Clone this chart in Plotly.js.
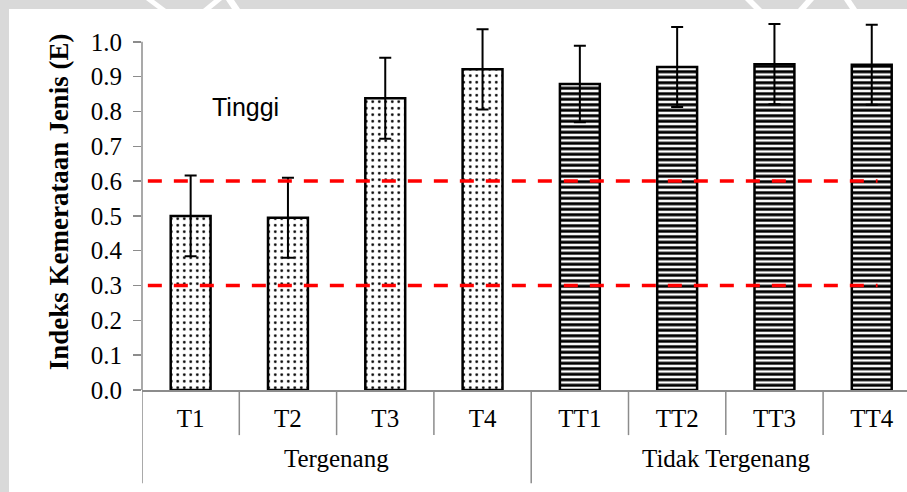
<!DOCTYPE html>
<html>
<head>
<meta charset="utf-8">
<script src="https://cdn.plot.ly/plotly-3.0.1.min.js"></script>
<style>
  html, body { margin: 0; padding: 0; background: #d9d9d9; width: 907px; height: 492px; overflow: hidden; }
  #bg { position: absolute; left: 0; top: 0; }
  #chart { position: absolute; left: 9px; top: 9px; width: 898px; height: 483px; background: #fff; }
</style>
</head>
<body>
<svg id="bg" width="907" height="20">
  <polygon points="146,0 154,0 166,9 158,9" fill="#ffffff"/>
  <polygon points="203,9 211,9 222,0 214,0" fill="#ffffff"/>
  <polygon points="226,0 234,0 240,9 232,9" fill="#ffffff"/>
  <polygon points="745,0 753,0 762,9 754,9" fill="#ffffff"/>
  <polygon points="798,9 806,9 814,0 806,0" fill="#ffffff"/>
  <polygon points="844,0 851,0 857,9 850,9" fill="#ffffff"/>
</svg>
<div id="chart"></div>
<script>
// ---- data ----
const groups = ['Tergenang', 'Tidak Tergenang'];
const categories = ['T1', 'T2', 'T3', 'T4', 'TT1', 'TT2', 'TT3', 'TT4'];
const groupIndex = [0, 0, 0, 0, 1, 1, 1, 1];
const values = [0.500, 0.495, 0.838, 0.921, 0.879, 0.928, 0.936, 0.934];
const errors = [0.116, 0.115, 0.116, 0.115, 0.110, 0.115, 0.115, 0.115];
const thresholds = [0.3, 0.6];
const yTicks = [0, 0.1, 0.2, 0.3, 0.4, 0.5, 0.6, 0.7, 0.8, 0.9, 1.0];
const yTitle = 'Indeks Kemerataan Jenis (E)';
const noteText = 'Tinggi';

// ---- styles ----
const serif = 'Liberation Serif, Times New Roman, serif';
const groupPattern = ['.', '-'];
const groupPatternSize = [6.5, 5.5];
const groupSolidity = [0.14, 0.55];
const axisGray = '#8c8c8c';

const trace = {
  type: 'bar',
  x: categories,
  y: values,
  width: 0.41,
  cliponaxis: false,
  marker: {
    color: '#ffffff',
    line: { color: '#000000', width: 2.5 },
    pattern: {
      shape: groupIndex.map(g => groupPattern[g]),
      size: groupIndex.map(g => groupPatternSize[g]),
      solidity: groupIndex.map(g => groupSolidity[g]),
      fgcolor: '#000000',
      bgcolor: '#ffffff',
      fillmode: 'replace'
    }
  },
  error_y: { type: 'data', array: errors, visible: true, color: '#000000', thickness: 2, width: 6 },
  hoverinfo: 'x+y',
  showlegend: false
};

const shapes = [];
// y axis line (only up to the top tick)
shapes.push({ type: 'line', xref: 'paper', yref: 'y', x0: 0, x1: 0, y0: 0, y1: yTicks[yTicks.length - 1],
  line: { color: axisGray, width: 1.5 }, layer: 'above' });
// threshold lines
thresholds.forEach(t => {
  shapes.push({ type: 'line', xref: 'x', yref: 'y', x0: -0.44, x1: 7.06, y0: t, y1: t,
    line: { color: '#ff0000', width: 3.5, dash: '14px,12px' }, layer: 'above' });
});
// category separators & group dividers
for (let i = 0; i <= categories.length; i++) {
  const isGroupEdge = (i === 0 || i === categories.length || groupIndex[i] !== groupIndex[i - 1]);
  shapes.push({ type: 'line', xref: 'x', yref: 'paper', x0: i - 0.5, x1: i - 0.5, y0: 0,
    y1: isGroupEdge ? -0.248 : -0.12, line: { color: axisGray, width: 1.5 } });
}

const annotations = [];
groups.forEach((g, gi) => {
  const idx = groupIndex.map((v, i) => v === gi ? i : -1).filter(i => i >= 0);
  const center = (idx[0] + idx[idx.length - 1]) / 2;
  annotations.push({ xref: 'x', yref: 'paper', x: center, y: -0.183, text: g, showarrow: false,
    font: { family: serif, size: 25, color: '#000' }, yanchor: 'middle' });
});
annotations.push({ xref: 'x', yref: 'y', x: 0.565, y: 0.813, text: noteText, showarrow: false,
  font: { family: 'Liberation Sans, Arial, sans-serif', size: 25, color: '#000' } });

const yTop = 1.08;
const pxPerUnit = 348;
const plotH = yTop * pxPerUnit;
const topMargin = 483 - 102 - plotH;

const layout = {
  width: 898, height: 483,
  margin: { l: 133, r: 0, t: topMargin, b: 102 },
  paper_bgcolor: '#ffffff',
  plot_bgcolor: '#ffffff',
  font: { family: serif, color: '#000' },
  xaxis: {
    type: 'category',
    range: [-0.5, -0.5 + 765 / 97.3],
    showline: true, linecolor: axisGray, linewidth: 1.5,
    ticks: '', showgrid: false, zeroline: false,
    tickfont: { family: serif, size: 25, color: '#000' },
    ticklabelstandoff: 5
  },
  yaxis: {
    range: [0, yTop],
    tickvals: yTicks,
    tickformat: '.1f',
    showline: false,
    ticks: 'outside', ticklen: 8, tickcolor: axisGray, tickwidth: 1.5,
    showgrid: false, zeroline: false,
    tickfont: { family: serif, size: 25, color: '#000' },
    ticklabelstandoff: 6,
    title: { text: '<b>' + yTitle + '</b>', font: { family: serif, size: 27, color: '#000' }, standoff: 14 }
  },
  shapes: shapes,
  annotations: annotations,
  bargap: 0.59
};

Plotly.newPlot('chart', [trace], layout, { staticPlot: true, displayModeBar: false });
</script>
</body>
</html>
